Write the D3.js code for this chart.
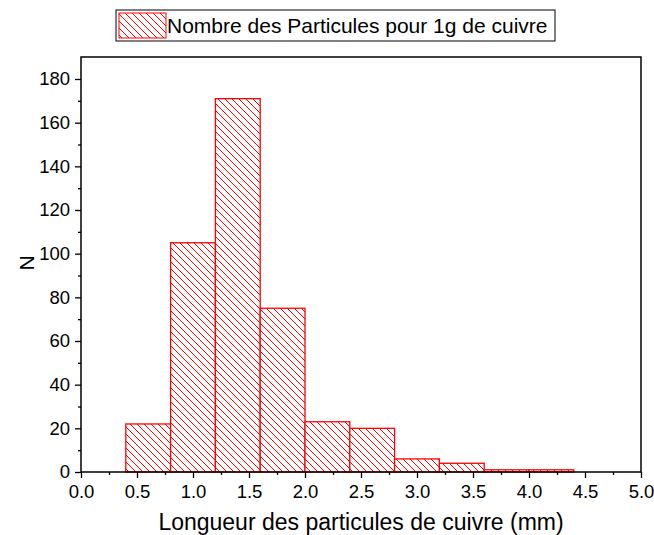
<!DOCTYPE html>
<html><head><meta charset="utf-8">
<script src="https://cdn.jsdelivr.net/npm/d3@7"></script>
<style>body{margin:0;background:#fff}svg{display:block;font-family:Arial,"Liberation Sans",sans-serif}</style>
</head><body>
<script>
const binStart = [0.4, 0.8, 1.2, 1.6, 2.0, 2.4, 2.8, 3.2, 3.6, 4.0];
const binEnd   = [0.8, 1.2, 1.6, 2.0, 2.4, 2.8, 3.2, 3.6, 4.0, 4.4];
const counts   = [22, 105, 171, 75, 23, 20, 6, 4, 1, 1];
const xTicks = [0, 0.5, 1, 1.5, 2, 2.5, 3, 3.5, 4, 4.5, 5];
const yTicks = [0, 20, 40, 60, 80, 100, 120, 140, 160, 180];
const seriesName = "Nombre des Particules pour 1g de cuivre";

const W = 654, H = 535;
const svg = d3.select("body").append("svg").attr("width", W).attr("height", H);
const L = 81, R = 641, T = 57, B = 472;
const x = d3.scaleLinear().domain([0, 5]).range([L, R]);
const y = d3.scaleLinear().domain([0, 180]).range([B, 79]);
const FONT = "Arial, 'Liberation Sans', sans-serif";

const defs = svg.append("defs");
const pat = defs.append("pattern").attr("id", "hatch").attr("patternUnits", "userSpaceOnUse")
  .attr("width", 7).attr("height", 7);
pat.append("rect").attr("width", 7).attr("height", 7).attr("fill", "#fff");
pat.append("path").attr("d", "M0,0L7,7M-1,6L1,8M6,-1L8,1").attr("stroke", "#ff0000").attr("stroke-width", 1);

const data = counts.map((c, i) => ({ x0: binStart[i], x1: binEnd[i], c }));
svg.append("g").selectAll("rect").data(data).join("rect")
  .attr("x", d => x(d.x0)).attr("width", d => x(d.x1) - x(d.x0))
  .attr("y", d => y(d.c)).attr("height", d => B - y(d.c))
  .attr("fill", "url(#hatch)").attr("stroke", "#ff0000").attr("stroke-width", 1.3);

// frame
svg.append("rect").attr("x", L).attr("y", T).attr("width", R - L).attr("height", B - T)
  .attr("fill", "none").attr("stroke", "#000").attr("stroke-width", 1.5);

// x axis
const xAxis = svg.append("g").attr("transform", `translate(0,${B})`)
  .call(d3.axisBottom(x).tickValues(xTicks).tickFormat(d3.format(".1f")).tickSize(6).tickPadding(7));
xAxis.append("g").call(d3.axisBottom(x).tickValues(d3.range(0.25, 5, 0.5)).tickFormat("").tickSize(3));
// y axis
const yAxis = svg.append("g").attr("transform", `translate(${L},0)`)
  .call(d3.axisLeft(y).tickValues(yTicks).tickSize(6).tickPadding(5));
yAxis.append("g").call(d3.axisLeft(y).tickValues(d3.range(10, 190, 20)).tickFormat("").tickSize(3));
svg.selectAll(".domain").remove();
svg.selectAll(".tick line").attr("stroke", "#000").attr("stroke-width", 1.3);
svg.selectAll(".tick text").attr("font-size", 18.5).attr("fill", "#000").attr("font-family", FONT);

// axis titles
svg.append("text").attr("x", 361).attr("y", 530).attr("text-anchor", "middle")
  .attr("font-size", 23).attr("font-family", FONT).text("Longueur des particules de cuivre (mm)");
svg.append("text").attr("transform", `translate(34,263) rotate(-90)`)
  .attr("text-anchor", "middle").attr("font-size", 21).attr("font-family", FONT).text("N");

// legend
const lg = svg.append("g");
lg.append("rect").attr("x", 116).attr("y", 10).attr("width", 439).attr("height", 31)
  .attr("fill", "#fff").attr("stroke", "#000").attr("stroke-width", 1);
lg.append("rect").attr("x", 119).attr("y", 13).attr("width", 47).attr("height", 25)
  .attr("fill", "url(#hatch)").attr("stroke", "#ff0000").attr("stroke-width", 1);
lg.append("text").attr("x", 167).attr("y", 33).attr("font-size", 21).attr("font-family", FONT).text(seriesName);
</script>
</body></html>
